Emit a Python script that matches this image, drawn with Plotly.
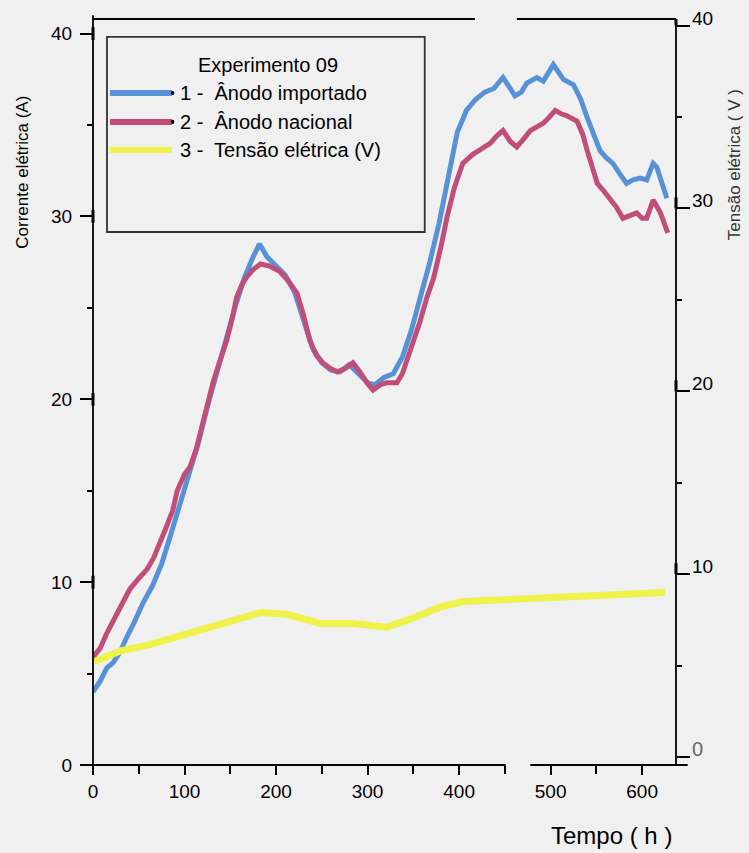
import plotly.graph_objects as go

# --- data -------------------------------------------------------------
tempo_importado = [0, 8, 15, 22, 30, 35, 45, 55, 65, 75, 85, 95, 105, 115, 125, 135, 145, 155,
                   165, 175, 182, 190, 200, 210, 220, 230, 240, 250, 260, 270, 280, 290, 300,
                   308, 318, 328, 338, 348, 358, 368, 378, 388, 398, 408, 418, 428, 438, 448,
                   455, 461, 468, 474, 485, 492, 503, 514, 525, 533, 540, 547, 554, 561, 568,
                   576, 583, 590, 598, 605, 612, 616, 620, 627]
corrente_importado = [4.0, 4.6, 5.3, 5.6, 6.2, 6.8, 7.8, 8.9, 9.8, 11.0, 12.6, 14.3, 15.8, 17.6,
                      19.6, 21.5, 23.2, 25.0, 26.6, 27.8, 28.5, 27.8, 27.3, 26.8, 25.9, 24.4,
                      22.8, 22.0, 21.6, 21.5, 21.9, 21.4, 20.9, 20.8, 21.2, 21.4, 22.3, 23.8,
                      25.6, 27.5, 29.6, 32.0, 34.6, 35.8, 36.4, 36.8, 37.0, 37.6, 37.0, 36.6,
                      36.8, 37.3, 37.6, 37.4, 38.3, 37.5, 37.2, 36.4, 35.4, 34.5, 33.6, 33.2,
                      32.9, 32.3, 31.8, 32.0, 32.1, 32.0, 32.9, 32.7, 32.1, 31.0]

tempo_nacional = [0, 8, 15, 26, 33, 40, 50, 59, 66, 73, 80, 87, 92, 100, 106, 113, 117, 124,
                  131, 138, 146, 152, 157, 163, 168, 175, 183, 192, 204, 213, 223, 230, 237,
                  244, 251, 259, 267, 276, 284, 290, 295, 301, 306, 314, 321, 332, 338, 343,
                  350, 357, 365, 372, 380, 387, 395, 404, 415, 425, 434, 441, 448, 456, 463,
                  470, 478, 485, 492, 498, 505, 512, 518, 529, 535, 540, 546, 551, 558, 565,
                  572, 579, 587, 594, 600, 605, 612, 616, 620, 628]
corrente_nacional = [5.9, 6.4, 7.2, 8.3, 8.9, 9.6, 10.2, 10.7, 11.3, 12.1, 13.0, 13.9, 15.0,
                     15.9, 16.3, 17.3, 18.1, 19.5, 20.9, 22.0, 23.2, 24.4, 25.6, 26.3, 26.7,
                     27.1, 27.4, 27.3, 27.0, 26.5, 25.8, 24.6, 23.2, 22.4, 22.0, 21.7, 21.5,
                     21.7, 22.0, 21.6, 21.2, 20.8, 20.5, 20.8, 20.9, 20.9, 21.4, 22.1, 23.1,
                     24.2, 25.6, 26.6, 28.3, 30.0, 31.6, 32.9, 33.4, 33.7, 34.0, 34.4, 34.7,
                     34.1, 33.8, 34.2, 34.7, 34.9, 35.1, 35.4, 35.8, 35.6, 35.5, 35.2, 34.5,
                     33.6, 32.6, 31.8, 31.4, 31.0, 30.5, 29.9, 30.1, 30.2, 29.9, 29.9, 30.9,
                     30.6, 30.2, 29.1]

tempo_tensao = [1, 30, 59, 95, 139, 183, 212, 248, 284, 321, 350, 379, 404, 445, 484, 532, 576, 625]
tensao = [5.2, 5.8, 6.1, 6.6, 7.3, 7.9, 7.8, 7.3, 7.3, 7.1, 7.6, 8.2, 8.5, 8.6, 8.7, 8.8, 8.9, 9.0]

x_ticks = [0, 100, 200, 300, 400, 500, 600]
y_ticks = [0, 10, 20, 30, 40]
legend_title = "Experimento 09"
legend_labels = ["1 -  Ânodo importado", "2 -  Ânodo nacional", "3 -  Tensão elétrica (V)"]

# --- style ------------------------------------------------------------
BG = "#f0f0f0"
BLUE = "rgb(88,146,214)"
RED = "rgb(192,78,120)"
YELLOW = "rgb(238,242,74)"
FONT = "Arial, Liberation Sans, sans-serif"
LW = 5

fig = go.Figure()
fig.add_trace(go.Scatter(x=tempo_tensao, y=tensao, mode="lines", yaxis="y2",
                         line=dict(color=YELLOW, width=7), showlegend=False))
fig.add_trace(go.Scatter(x=tempo_importado, y=corrente_importado, mode="lines",
                         line=dict(color=BLUE, width=LW), showlegend=False))
fig.add_trace(go.Scatter(x=tempo_nacional, y=corrente_nacional, mode="lines",
                         line=dict(color=RED, width=LW), showlegend=False))

tickfont = dict(family=FONT, size=19, color="black")

fig.update_layout(
    width=749, height=853,
    margin=dict(l=93, r=73, t=19, b=88),
    paper_bgcolor=BG, plot_bgcolor=BG,
    showlegend=False,
    xaxis=dict(range=[0, 637], tickvals=x_ticks, ticks="outside", ticklen=9, tickwidth=1.5,
               tickcolor="black", showgrid=False, zeroline=False, showline=False,
               tickfont=tickfont, ticklabelstandoff=0,
               minor=dict(dtick=50, tick0=0, ticks="outside", ticklen=8, tickwidth=1.5,
                          tickcolor="black", showgrid=False)),
    yaxis=dict(range=[0, 40.8], tickvals=y_ticks, ticks="outside", ticklen=12, tickwidth=1.5,
               tickcolor="black", showgrid=False, zeroline=False, showline=False,
               tickfont=tickfont, ticklabelstandoff=4,
               minor=dict(dtick=5, tick0=0, ticks="outside", ticklen=5, tickwidth=1.5,
                          tickcolor="black", showgrid=False)),
    yaxis2=dict(range=[-0.44, 40.36], overlaying="y", side="right", tickvals=y_ticks,
                ticks="outside", ticklen=13, tickwidth=1.5, tickcolor="black",
                showgrid=False, zeroline=False, showline=False, showticklabels=False,
                minor=dict(dtick=5, tick0=0, ticks="outside", ticklen=5, tickwidth=1.5,
                           tickcolor="black", showgrid=False)),
)

# right-hand scale labels sit on the tick, like "_40"
for v in y_ticks:
    fig.add_annotation(text=str(v), xref="paper", yref="y2", x=1, y=v, xshift=14, yshift=-5,
                       showarrow=False, xanchor="left", yanchor="bottom",
                       font=dict(family=FONT, size=19 if v else 20,
                                 color="black" if v else "#666666"))
    if v:
        fig.add_shape(type="line", xref="paper", yref="y2", x0=1, x1=1, y0=v, y1=v + 0.6,
                      line=dict(color="black", width=3), layer="above")

# thicker axis segments around the left major ticks
for v in y_ticks[1:]:
    fig.add_shape(type="line", xref="paper", yref="y", x0=0, x1=0, y0=v - 0.35, y1=v + 0.35,
                  line=dict(color="black", width=3), layer="above")

# axis frame lines (with the small breaks in the top and bottom rules)
line_style = dict(color="black", width=1.8)
frame = [
    (0, 0, 0, 1.005),          # left axis
    (1, 0, 1, 1),              # right axis
    (-0.012, 0, 0.708, 0),     # bottom axis, first part
    (0.75, 0, 1.02, 0),        # bottom axis, second part
    (0, 1, 0.655, 1),          # top rule, first part
    (0.727, 1, 1, 1),          # top rule, second part
]
for x0, y0, x1, y1 in frame:
    fig.add_shape(type="line", xref="paper", yref="paper", x0=x0, y0=y0, x1=x1, y1=y1,
                  line=line_style, layer="above")

# legend box
fig.add_shape(type="rect", xref="paper", yref="paper", x0=0.024, x1=0.569, y0=0.7145, y1=0.976,
              line=dict(color="#333333", width=1.8), fillcolor=BG, layer="above")
fig.add_annotation(text=legend_title, xref="paper", yref="paper", x=0.300, y=0.938,
                   showarrow=False, xanchor="center", yanchor="middle",
                   font=dict(family=FONT, size=20, color="black"))
legend_colors = [BLUE, RED, YELLOW]
legend_y = [0.9008, 0.862, 0.8244]
for label, color, ly in zip(legend_labels, legend_colors, legend_y):
    fig.add_shape(type="line", xref="paper", yref="paper", x0=0.029, x1=0.1355, y0=ly, y1=ly,
                  line=dict(color=color, width=6), layer="above")
    fig.add_annotation(text=label, xref="paper", yref="paper", x=0.1458, y=ly,
                       showarrow=False, xanchor="left", yanchor="middle",
                       font=dict(family=FONT, size=20, color="black"))
for ly in legend_y[:2]:
    fig.add_shape(type="circle", xref="paper", yref="paper",
                  x0=0.1335, x1=0.1395, y0=ly - 0.0028, y1=ly + 0.0028,
                  fillcolor="black", line=dict(width=0), layer="above")

# axis titles
fig.add_annotation(text="Corrente elétrica (A)", xref="paper", yref="paper", x=-0.12, y=0.794,
                   textangle=-90, showarrow=False, xanchor="center", yanchor="middle",
                   font=dict(family=FONT, size=17, color="black"))
fig.add_annotation(text="Tensão elétrica ( V )", xref="paper", yref="paper", x=1.0995, y=0.804,
                   textangle=-90, showarrow=False, xanchor="center", yanchor="middle",
                   font=dict(family=FONT, size=17, color="#333333"))
fig.add_annotation(text="Tempo ( h )", xref="paper", yref="paper", x=0.89, y=-0.094,
                   showarrow=False, xanchor="center", yanchor="middle",
                   font=dict(family=FONT, size=24, color="black"))

fig.write_html("out.html")
